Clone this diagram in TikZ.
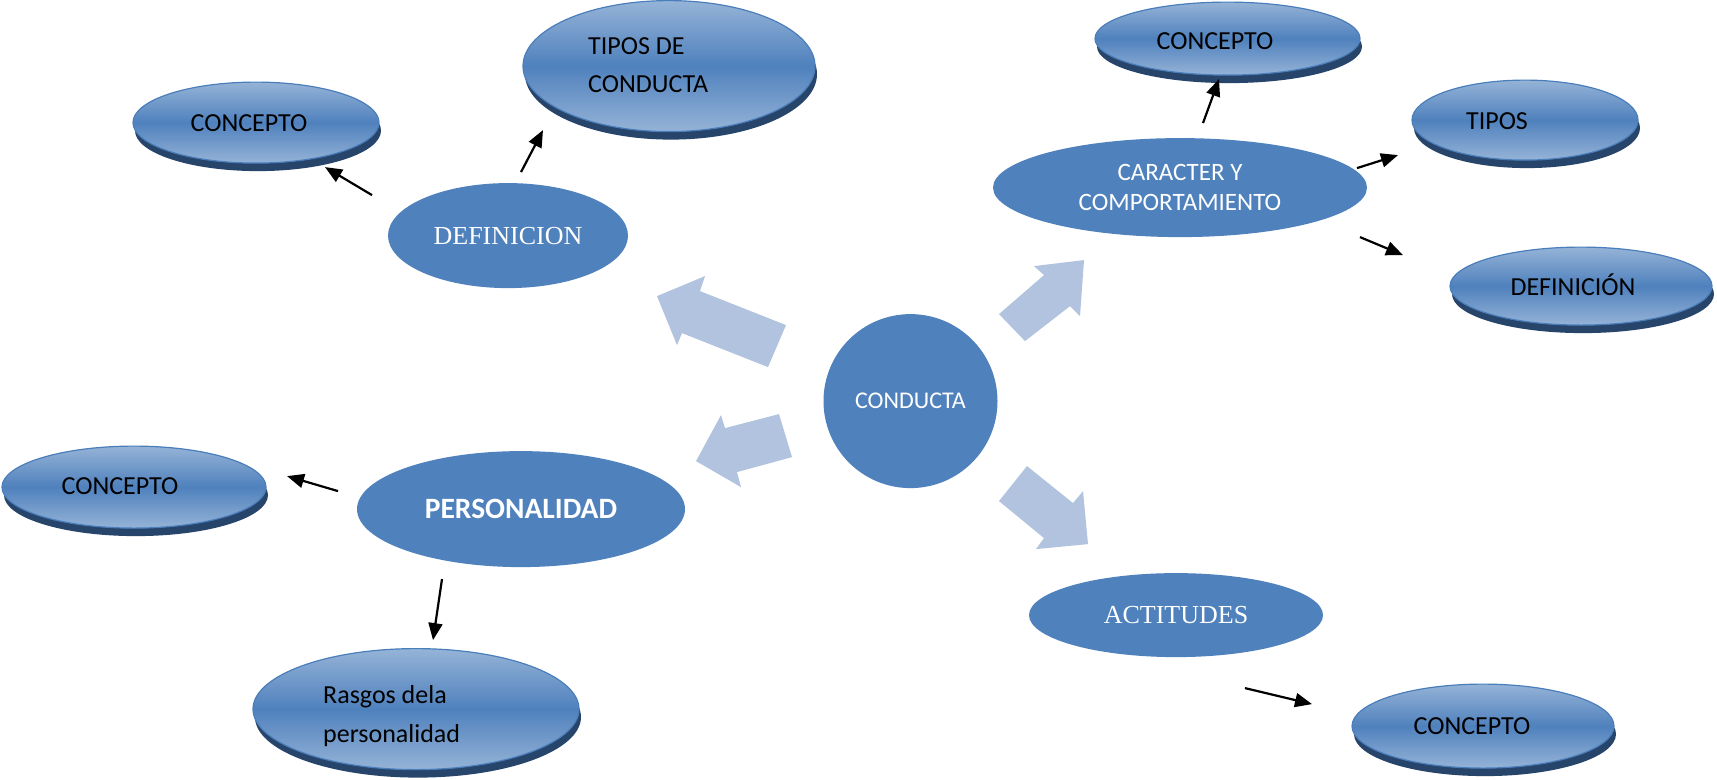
\documentclass[tikz,border=0pt]{standalone}
\usepackage{fontspec}
\setmainfont{Carlito}
\newfontfamily\seriffont{Liberation Serif}
\usetikzlibrary{shapes.geometric,arrows.meta,shadows}
\definecolor{mainblue}{HTML}{4F81BD}
\definecolor{lightblue}{HTML}{95B3D7}
\definecolor{edgeblue}{HTML}{4A7EBB}
\definecolor{shadowblue}{HTML}{27446A}
\definecolor{paleblue}{HTML}{B1C3DF}
\begin{document}
\begin{tikzpicture}[x=1pt,y=-1pt,
  flat/.style={ellipse, fill=mainblue, inner sep=0pt, text=white},
  grad/.style={ellipse, inner sep=0pt, draw=edgeblue, line width=1.2pt,
    top color=lightblue, bottom color=lightblue, middle color=mainblue,
    drop shadow={shadow xshift=2pt, shadow yshift=-8pt, fill=shadowblue, opacity=1}},
  gtext/.style={font=\fontsize{26}{38}\selectfont, text=black, inner sep=0pt},
  gline/.style={gtext, text height=16.7pt, text depth=0pt},
  sertext/.style={font=\seriffont\fontsize{26}{30}\selectfont},
  link/.style={line width=2.2pt, -{Triangle[length=17pt,width=14pt]}},
  block/.style={fill=paleblue}
]
\fill[white] (0,0) rectangle (1717,779);

% block arrows
\fill[block] (786,325) -- (700,291) -- (705,276) -- (657,296) -- (677,345) -- (682,333) -- (768,367) -- cycle;
\fill[block] (779,414) -- (725,428) -- (721,415) -- (696,461) -- (741,487) -- (737,472) -- (792,457) -- cycle;
\fill[block] (1025,341) -- (999,314) -- (1044,275) -- (1034,266) -- (1084,260) -- (1080,316) -- (1070,306) -- cycle;
\fill[block] (1027,466) -- (999,501) -- (1044,538) -- (1036,549) -- (1088,544) -- (1083,491) -- (1073,503) -- cycle;

% central node
\node[circle, fill=mainblue, inner sep=0pt, minimum size=174pt, text=white,
  font=\fontsize{24}{28}\selectfont] (cond) at (910.5,401) {CONDUCTA};

% flat ellipses
\node[flat, minimum width=240pt, minimum height=105pt, sertext] (def) at (508,235.5) {DEFINICION};
\node[flat, minimum width=374pt, minimum height=99pt, align=center,
  font=\fontsize{25}{30}\selectfont] (car) at (1180,187.5) {CARACTER Y\\COMPORTAMIENTO};
\node[flat, minimum width=328pt, minimum height=116pt,
  font=\bfseries\fontsize{29.5}{33}\selectfont] (pers) at (521,509) {PERSONALIDAD};
\node[flat, minimum width=294pt, minimum height=84pt, sertext] (act) at (1176,615) {ACTITUDES};

% gradient ellipses
\node[grad, minimum width=246pt, minimum height=81pt] (cl) at (256,122.5) {};
\node[grad, minimum width=292pt, minimum height=131pt] (tdc) at (669,66) {};
\node[grad, minimum width=265pt, minimum height=73pt] (cr) at (1227.5,38.5) {};
\node[grad, minimum width=226pt, minimum height=80pt] (tipos) at (1525,120) {};
\node[grad, minimum width=262pt, minimum height=78pt] (defn) at (1581,286) {};
\node[grad, minimum width=264pt, minimum height=82pt] (cl2) at (134,487) {};
\node[grad, minimum width=326pt, minimum height=121pt] (rasgos) at (416,709) {};
\node[grad, minimum width=262pt, minimum height=84pt] (cb) at (1483,726) {};

% texts of gradient ellipses
\node[gline] (cl-t) at (249,123) {CONCEPTO};
\node[gtext, anchor=west, align=left] (tdc-t) at (588,65.5) {TIPOS DE\\CONDUCTA};
\node[gline] (cr-t) at (1215,41.5) {CONCEPTO};
\node[gline] (tipos-t) at (1497,121.5) {TIPOS};
\node[gline] (defn-t) at (1573,287.5) {DEFINICIÓN};
\node[gline] (cl2-t) at (120,486) {CONCEPTO};
\node[gtext, anchor=west, align=left, font=\fontsize{26}{39}\selectfont] (rasgos-t) at (323,716) {Rasgos dela\\personalidad};
\node[gline] (cb-t) at (1472,726.5) {CONCEPTO};

% thin arrows
\coordinate (a1s) at (372,195);  \coordinate (a1e) at (325,167);
\coordinate (a2s) at (521,172);  \coordinate (a2e) at (543,130);
\coordinate (a3s) at (1203,123); \coordinate (a3e) at (1219,79);
\coordinate (a4s) at (1357,168); \coordinate (a4e) at (1398,155);
\coordinate (a5s) at (1360,237); \coordinate (a5e) at (1403,255);
\coordinate (a6s) at (338,491);  \coordinate (a6e) at (287,476);
\coordinate (a7s) at (442,579);  \coordinate (a7e) at (433,640);
\coordinate (a8s) at (1245,688); \coordinate (a8e) at (1312,704);
\draw[link] (a1s) -- (a1e);
\draw[link] (a2s) -- (a2e);
\draw[link] (a3s) -- (a3e);
\draw[link] (a4s) -- (a4e);
\draw[link] (a5s) -- (a5e);
\draw[link] (a6s) -- (a6e);
\draw[link] (a7s) -- (a7e);
\draw[link] (a8s) -- (a8e);
\end{tikzpicture}
\end{document}
